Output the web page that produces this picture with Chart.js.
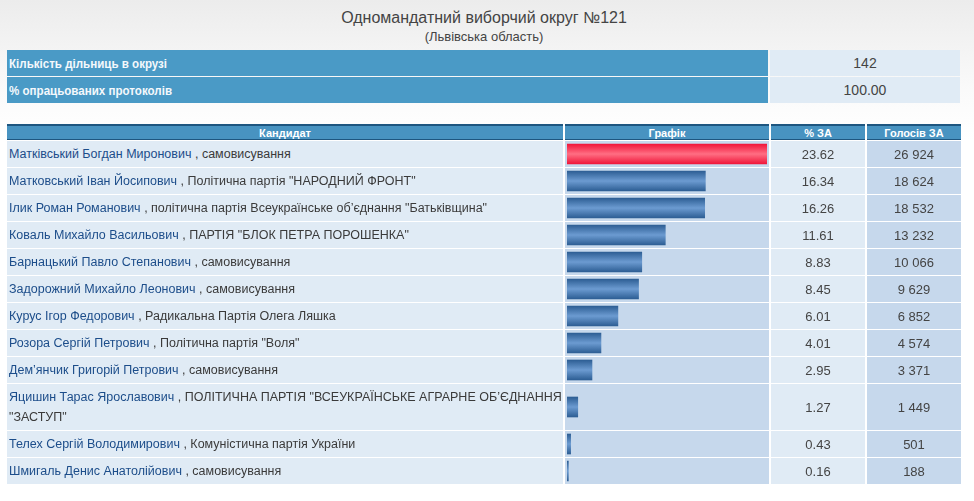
<!DOCTYPE html>
<html>
<head>
<meta charset="utf-8">
<script src="https://cdn.jsdelivr.net/npm/chart.js@4/dist/chart.umd.min.js"></script>
<style>
  html, body { margin: 0; padding: 0; }
  body {
    width: 974px; height: 501px; overflow: hidden;
    background: linear-gradient(#ececec 0px, #fafafa 90px, #ffffff 140px);
    font-family: "Liberation Sans", Arial, sans-serif;
  }
  .title { position: absolute; left: 5px; width: 958px; text-align: center; color: #444; }
  #t1 { top: 9px; font-size: 16px; font-weight: 300; }
  #t2 { top: 29px; font-size: 13px; }
  table { position: absolute; left: 5px; border-collapse: separate; border-spacing: 2px 1px; table-layout: fixed; }
  #info { top: 49px; }
  #info td { height: 26px; padding: 0; }
  #info td.lab { background: #4a9ac6; color: #f4f8fc; font-weight: bold; font-size: 13px; padding-left: 2px; }
  #info td.lab span { display: inline-block; transform: scaleX(0.89); transform-origin: left center; }
  #info td.val { background: #e0ebf5; color: #444; font-size: 14px; text-align: center; }
  #res { top: 123px; }
  #res th { height: 13px; padding: 0; background: #4893c1; color: #fff; font-size: 11px; font-weight: bold;
    border-top: 2px solid #1e5680; border-bottom: 1px solid #1e5680; }
  #res td { height: 26px; padding: 0; font-size: 13px; }
  #res td.cand { background: #e0ebf5; height: 20px; padding: 3px 0 3px 2px; font-size: 12.5px; line-height: 20px; }
  #res td.cand .nm { color: #1c4d8a; }
  #res td.cand .pt { color: #3a3a3a; }
  #res td.gr { background: #c6d8ec; padding-left: 2px; vertical-align: middle; }
  #res td.gr canvas { display: block; }
  #res td.pc { background: #e0ebf5; color: #444; text-align: center; }
  #res td.vt { background: #c6d8ec; color: #444; text-align: center; }
</style>
</head>
<body>
<div class="title" id="t1">Одномандатний виборчий округ №121</div>
<div class="title" id="t2">(Львівська область)</div>

<table id="info">
  <colgroup><col style="width:761px"><col style="width:190px"></colgroup>
  <tr><td class="lab"><span>Кількість дільниць в окрузі</span></td><td class="val" id="stations"></td></tr>
  <tr><td class="lab"><span>% опрацьованих протоколів</span></td><td class="val" id="processed"></td></tr>
</table>

<table id="res">
  <colgroup>
    <col style="width:556px"><col style="width:204px"><col style="width:94px"><col style="width:94px">
  </colgroup>
  <thead>
    <tr><th>Кандидат</th><th>Графік</th><th>% ЗА</th><th>Голосів ЗА</th></tr>
  </thead>
  <tbody id="rows"></tbody>
</table>

<script>
// district summary
const stationCount = 142;
const processedPct = "100.00";

// candidates, in table order
const names = [
  "Матківський Богдан Миронович",
  "Матковський Іван Йосипович",
  "Ілик Роман Романович",
  "Коваль Михайло Васильович",
  "Барнацький Павло Степанович",
  "Задорожний Михайло Леонович",
  "Курус Ігор Федорович",
  "Розора Сергій Петрович",
  "Дем’янчик Григорій Петрович",
  "Яцишин Тарас Ярославович",
  "Телех Сергій Володимирович",
  "Шмигаль Денис Анатолійович"
];
const parties = [
  "самовисування",
  "Політична партія \"НАРОДНИЙ ФРОНТ\"",
  "політична партія Всеукраїнське об’єднання \"Батьківщина\"",
  "ПАРТІЯ \"БЛОК ПЕТРА ПОРОШЕНКА\"",
  "самовисування",
  "самовисування",
  "Радикальна Партія Олега Ляшка",
  "Політична партія \"Воля\"",
  "самовисування",
  "ПОЛІТИЧНА ПАРТІЯ \"ВСЕУКРАЇНСЬКЕ АГРАРНЕ ОБ’ЄДНАННЯ \"ЗАСТУП\"",
  "Комуністична партія України",
  "самовисування"
];
const pctFor = [23.62, 16.34, 16.26, 11.61, 8.83, 8.45, 6.01, 4.01, 2.95, 1.27, 0.43, 0.16];
const votesFor = [26924, 18624, 18532, 13232, 10066, 9629, 6852, 4574, 3371, 1449, 501, 188];

document.getElementById('stations').textContent = stationCount;
document.getElementById('processed').textContent = processedPct;

function fmtVotes(v) {
  return String(v).replace(/\B(?=(\d{3})+(?!\d))/g, ' ');
}

const maxPct = Math.max.apply(null, pctFor);
const tbody = document.getElementById('rows');

names.forEach(function(name, i) {
  const tr = document.createElement('tr');
  tr.innerHTML =
    '<td class="cand"><span class="nm"></span></td>' +
    '<td class="gr"><canvas width="200" height="26"></canvas></td>' +
    '<td class="pc"></td><td class="vt"></td>';
  const cand = tr.querySelector('.cand');
  tr.querySelector('.nm').textContent = name;
  // party words as separate spans so a wrapped line keeps its own box
  (', ' + parties[i]).split(' ').forEach(function(w) {
    cand.appendChild(document.createTextNode(' '));
    const s = document.createElement('span');
    s.className = 'pt';
    s.textContent = w;
    cand.appendChild(s);
  });
  tr.querySelector('.pc').textContent = pctFor[i].toFixed(2);
  tr.querySelector('.vt').textContent = fmtVotes(votesFor[i]);
  tbody.appendChild(tr);

  const winner = i === 0;
  const ctx = tr.querySelector('canvas').getContext('2d');
  new Chart(ctx, {
    type: 'bar',
    data: {
      labels: [name],
      datasets: [{
        data: [pctFor[i]],
        barThickness: 20,
        borderWidth: 0,
        backgroundColor: function(c) {
          const area = c.chart.chartArea;
          if (!area) return winner ? '#f5364f' : '#4a7db5';
          const mid = (area.top + area.bottom) / 2;
          const g = c.chart.ctx.createLinearGradient(0, mid - 10, 0, mid + 10);
          if (winner) {
            g.addColorStop(0, '#f0163a');
            g.addColorStop(0.5, '#ff6e83');
            g.addColorStop(1, '#f0163a');
          } else {
            g.addColorStop(0, '#2d5e94');
            g.addColorStop(0.5, '#6c9bd1');
            g.addColorStop(1, '#2d5e94');
          }
          return g;
        }
      }]
    },
    options: {
      indexAxis: 'y',
      responsive: false,
      animation: false,
      events: [],
      layout: { padding: 0 },
      plugins: { legend: { display: false }, tooltip: { enabled: false } },
      scales: {
        x: { display: false, min: 0, max: maxPct },
        y: { display: false }
      }
    }
  });
});
</script>
</body>
</html>
